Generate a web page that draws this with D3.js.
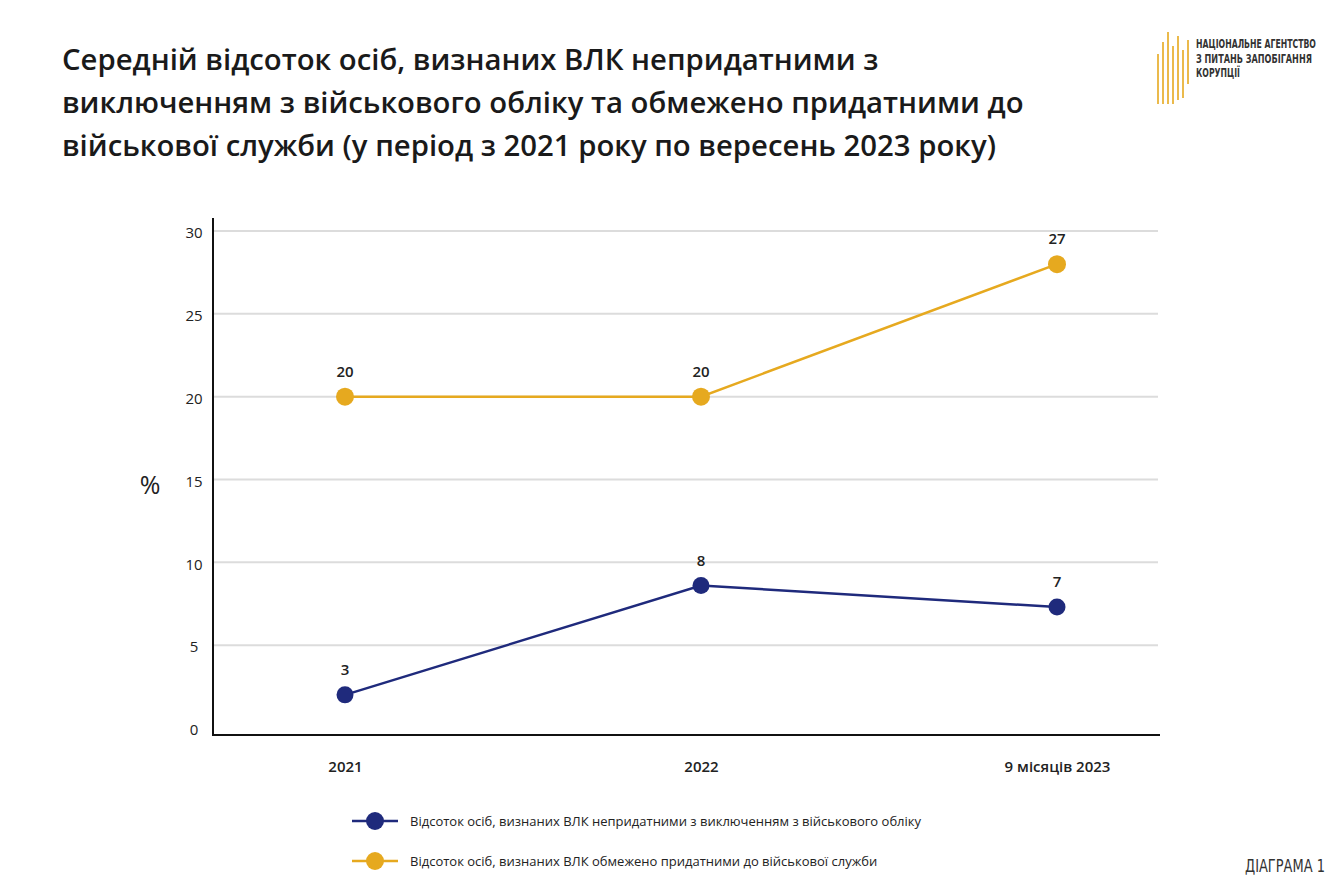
<!DOCTYPE html>
<html>
<head>
<meta charset="utf-8">
<script src="https://cdn.jsdelivr.net/npm/d3@7"></script>
<style>
  body { margin: 0; background: #fff; }
  svg { display: block; font-family: "Open Sans", sans-serif; }
</style>
</head>
<body>
<div class="chart"></div>
<script>
// data
let categories = ["2021", "2022", "9 місяців 2023"];
let unfitValues = [2.0, 8.6, 7.3];
let unfitLabels = ["3", "8", "7"];
let limitedValues = [20, 20, 28];
let limitedLabels = ["20", "20", "27"];
let yTicks = [0, 5, 10, 15, 20, 25, 30];
let seriesNames = [
    "Відсоток осіб, визнаних ВЛК непридатними з виключенням з військового обліку",
    "Відсоток осіб, визнаних ВЛК обмежено придатними до військової служби"
];
let titleLines = [
    "Середній відсоток осіб, визнаних ВЛК непридатними з",
    "виключенням з військового обліку та обмежено придатними до",
    "військової служби (у період з 2021 року по вересень 2023 року)"
];
let logoLines = ["НАЦІОНАЛЬНЕ АГЕНТСТВО", "З ПИТАНЬ ЗАПОБІГАННЯ", "КОРУПЦІЇ"];
let logoWidths = [120, 116, 44];

let W = 1336, H = 889;
let blue = "#1f2a7c", gold = "#e6a91f";

let svg = d3.select(".chart").append("svg")
    .attr("width", W)
    .attr("height", H);

// squeeze a text horizontally to a given width (condensed look)
let squeeze = (sel, width) => {
    let len = sel.node().getComputedTextLength();
    let k = width / len;
    sel.attr("transform", `${sel.attr("transform") || ""} scale(${k}, 1)`);
};

// title
svg.append("g").selectAll("text")
    .data(titleLines)
    .enter()
    .append("text")
        .attr("x", 62)
        .attr("y", (d, i) => 70 + i * 43)
        .attr("font-size", 29.3)
        .attr("font-weight", 600)
        .attr("fill", "#1a1a1a")
        .text(d => d);

// logo
let logo = svg.append("g").attr("transform", "translate(1158, 32)");
let bars = [[0, 22, 50], [5, 10, 62], [10, 0, 72], [15, 14, 58], [20, 4, 64], [25, 18, 48], [30, 8, 44]];
logo.selectAll("line")
    .data(bars)
    .enter()
    .append("line")
        .attr("x1", d => d[0]).attr("x2", d => d[0])
        .attr("y1", d => d[1]).attr("y2", d => d[1] + d[2])
        .attr("stroke", gold)
        .attr("stroke-width", 1.6);
logoLines.forEach((d, i) => {
    let t = logo.append("text")
        .attr("transform", `translate(38, ${16 + i * 14.5})`)
        .attr("font-family", "'DejaVu Sans Condensed', sans-serif")
        .attr("font-weight", 700)
        .attr("font-size", 11.5)
        .attr("fill", "#333")
        .text(d);
    squeeze(t, logoWidths[i]);
});

// scales
let yScale = d3.scaleLinear()
    .domain([0, 30])
    .range([728, 231]);
let xScale = d3.scalePoint()
    .domain(categories)
    .range([345, 1057]);

// gridlines
svg.append("g").selectAll("line")
    .data(yTicks.filter(d => d > 0))
    .enter()
    .append("line")
        .attr("x1", 213).attr("x2", 1158)
        .attr("y1", d => yScale(d)).attr("y2", d => yScale(d))
        .attr("stroke", "#dcdcdc")
        .attr("stroke-width", 2);

// y axis
let yAxis = d3.axisLeft(yScale).tickValues(yTicks).tickSize(0).tickPadding(0);
let yg = svg.append("g")
    .attr("transform", "translate(194, 0)")
    .call(yAxis);
yg.select(".domain").remove();
yg.selectAll("text")
    .attr("text-anchor", "middle")
    .attr("dy", "0.45em")
    .attr("font-family", "'Open Sans', sans-serif")
    .attr("font-size", 15)
    .attr("fill", "#222");

svg.append("line")
    .attr("x1", 213).attr("x2", 213)
    .attr("y1", 218).attr("y2", 736)
    .attr("stroke", "#111").attr("stroke-width", 2);

// x axis
let xAxis = d3.axisBottom(xScale).tickSize(0).tickPadding(0);
let xg = svg.append("g")
    .attr("transform", "translate(0, 735)")
    .call(xAxis);
xg.select(".domain")
    .attr("d", "M212,0H1160")
    .attr("stroke", "#111")
    .attr("stroke-width", 2);
xg.selectAll("text")
    .attr("y", 26)
    .attr("font-family", "'Open Sans', sans-serif")
    .attr("font-size", 15)
    .attr("font-weight", 600)
    .attr("fill", "#222");

svg.append("text")
    .attr("x", 150).attr("y", 494)
    .attr("text-anchor", "middle")
    .attr("font-size", 25)
    .attr("fill", "#222")
    .text("%");

// series
let series = [
    { values: limitedValues, labels: limitedLabels, color: gold, r: 9, w: 2.5 },
    { values: unfitValues, labels: unfitLabels, color: blue, r: 8.5, w: 2.5 }
];
let line = d3.line()
    .x((d, i) => xScale(categories[i]))
    .y(d => yScale(d));

series.forEach(s => {
    let g = svg.append("g");
    g.append("path")
        .attr("d", line(s.values))
        .attr("fill", "none")
        .attr("stroke", s.color)
        .attr("stroke-width", s.w);
    g.selectAll("circle")
        .data(s.values)
        .enter()
        .append("circle")
            .attr("cx", (d, i) => xScale(categories[i]))
            .attr("cy", d => yScale(d))
            .attr("r", s.r)
            .attr("fill", s.color);
    g.selectAll("text")
        .data(s.values)
        .enter()
        .append("text")
            .attr("x", (d, i) => xScale(categories[i]))
            .attr("y", d => yScale(d) - 20)
            .attr("text-anchor", "middle")
            .attr("font-size", 15)
            .attr("font-weight", 600)
            .attr("fill", "#222")
            .text((d, i) => s.labels[i]);
});

// legend
let legend = svg.append("g").selectAll("g")
    .data([blue, gold])
    .enter()
    .append("g")
        .attr("transform", (d, i) => `translate(352, ${821 + i * 40})`);
legend.append("line")
    .attr("x1", 0).attr("x2", 46)
    .attr("stroke", d => d)
    .attr("stroke-width", 2.5);
legend.append("circle")
    .attr("cx", 23)
    .attr("r", 9)
    .attr("fill", d => d);
legend.append("text")
    .attr("x", 58)
    .attr("dy", "0.35em")
    .attr("font-size", 13)
    .attr("fill", "#222")
    .text((d, i) => seriesNames[i]);

let diag = svg.append("text")
    .attr("transform", "translate(1245, 872)")
    .attr("font-family", "'DejaVu Sans Condensed', sans-serif")
    .attr("font-size", 17)
    .attr("fill", "#333")
    .text("ДІАГРАМА 1");
squeeze(diag, 80);
</script>
</body>
</html>
